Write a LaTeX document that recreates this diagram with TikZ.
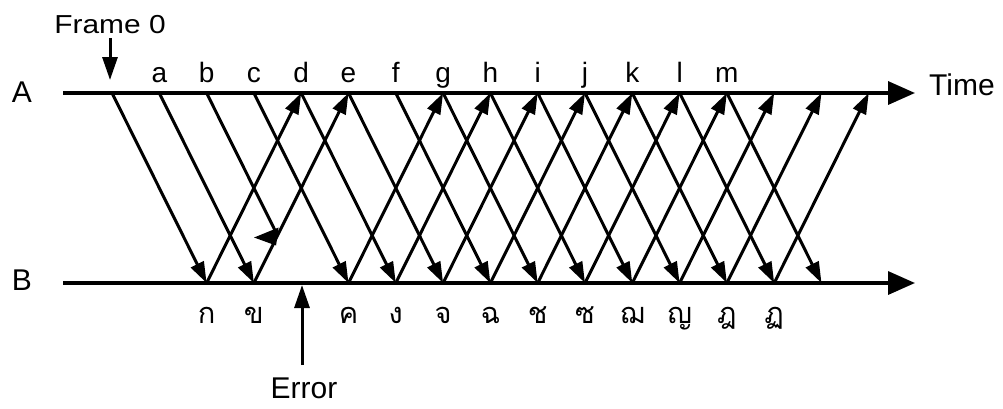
\documentclass[tikz,border=0pt]{standalone}
\usepackage{graphicx}
\usepackage{fontspec}
\setmainfont{Liberation Sans}
\newfontfamily\thaifont[Script=Thai]{Loma}
\usetikzlibrary{arrows.meta,calc}
\begin{document}
\begin{tikzpicture}[x=1pt,y=-1pt,
  axis/.style={line width=3.4pt,-{Triangle[length=27pt,width=23pt]}},
  msg/.style={line width=3pt,-{Triangle[length=21pt,width=14pt]}},
  bigarrow/.style={line width=3pt,-{Triangle[length=23pt,width=15pt]}},
  lbl/.style={font=\fontsize{28}{28}\selectfont,anchor=base,inner sep=0pt},
  biglbl/.style={font=\fontsize{30}{30}\selectfont,inner sep=0pt},
  thai/.style={font=\thaifont\fontsize{29}{29}\selectfont,anchor=base,inner sep=0pt}]
\useasboundingbox (0,0) rectangle (1003,408);
% slot coordinates on the two time lines
\foreach \k in {0,...,16} {
  \coordinate (A\k) at ({112+47.3*\k},93);
  \coordinate (B\k) at ({112+47.3*\k},283);
}
\coordinate (Astart) at (63,93);
\coordinate (Aend) at (915,93);
\coordinate (Bstart) at (63,283);
\coordinate (Bend) at (915,283);
% axes
\draw[axis] (Astart) -- (Aend);
\draw[axis] (Bstart) -- (Bend);
\node[biglbl] (LA) at (22,92) {A};
\node[biglbl] (LB) at (22,280) {B};
\node[biglbl,anchor=base west] (Time) at (929,95) {Time};
% frames A -> B
\foreach \k in {0,1,3,4,5,6,7,8,9,10,11,12,13} {
  \pgfmathtruncatemacro{\j}{\k+2}
  \draw[msg] (A\k) -- (B\j);
}
% acknowledgements B -> A
\foreach \k in {2,3,5,6,7,8,9,10,11,12,13,14} {
  \pgfmathtruncatemacro{\j}{\k+2}
  \draw[msg] (B\k) -- (A\j);
}
% lost frame
\coordinate (lost) at (intersection of A2--B4 and B3--A5);
\draw[line width=3pt] (A2) -- (lost);
\fill ($(lost)+(1,-8)$) -- ($(lost)+(-23.5,2)$) -- ($(lost)+(-1.5,10)$) -- cycle;
% frame labels
\foreach \k/\t in {1/a,2/b,3/c,4/d,5/e,6/f,7/g,8/h,9/i,10/j,11/k,12/l,13/m}
  \node[lbl] (L\k) at ($(A\k)+(0,-11)$) {\t};
% receiver labels
\foreach \k/\t in {2/ก,3/ข,5/ค,6/ง,7/จ,8/ฉ,9/ช,10/ซ,11/ฌ,12/ญ,13/ฎ,14/ฏ}
  \node[thai] (T\k) at ($(B\k)+(0,40)$) {\t};
% Frame 0 pointer
\node[font=\fontsize{26}{26}\selectfont,anchor=base,inner sep=0pt] (F0) at (110,33) {\scalebox{1.15}[1]{Frame 0}};
\coordinate (f0tail) at (110,38);
\coordinate (f0tip) at (110,80);
\draw[bigarrow] (f0tail) -- (f0tip);
% Error pointer
\node[biglbl,anchor=base] (Err) at (304,398) {Error};
\coordinate (errtail) at (302,365);
\coordinate (errtip) at ($(B4)+(0.8,2)$);
\draw[bigarrow] (errtail) -- (errtip);
\end{tikzpicture}
\end{document}
